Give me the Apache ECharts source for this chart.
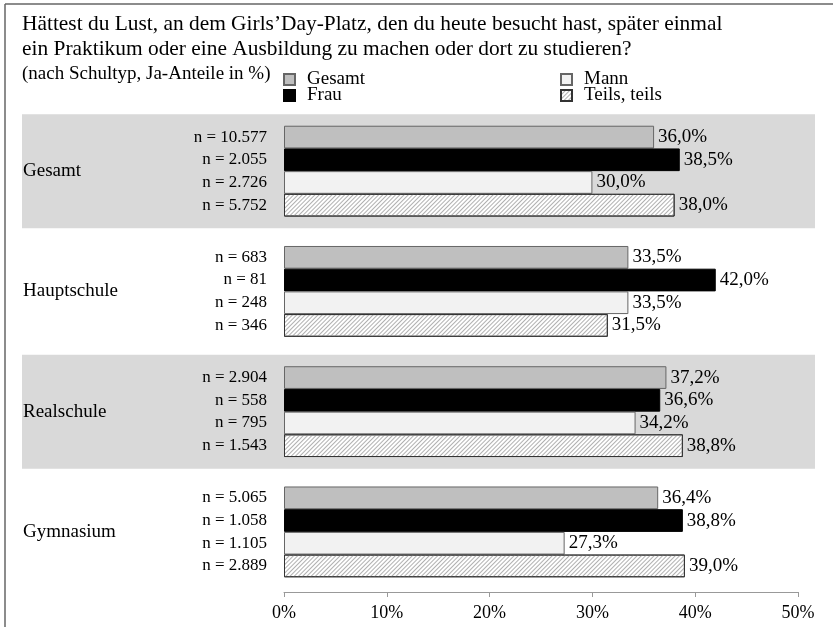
<!DOCTYPE html>
<html>
<head>
<meta charset="utf-8">
<script src="https://cdn.jsdelivr.net/npm/echarts@6/dist/echarts.min.js"></script>
<style>
  html, body { margin: 0; padding: 0; background: #fff; }
  #main { width: 833px; height: 627px; }
</style>
</head>
<body>
<div id="main"></div>
<script>
// Schultypen (von oben nach unten)
const categories = ['Gesamt', 'Hauptschule', 'Realschule', 'Gymnasium'];

// Ja-Anteile in %
const gesamtValues = [36.0, 33.5, 37.2, 36.4];
const frauValues = [38.5, 42.0, 36.6, 38.8];
const mannValues = [30.0, 33.5, 34.2, 27.3];
const teilsValues = [38.0, 31.5, 38.8, 39.0];

// Fallzahlen
const gesamtN = ['10.577', '683', '2.904', '5.065'];
const frauN = ['2.055', '81', '558', '1.058'];
const mannN = ['2.726', '248', '795', '1.105'];
const teilsN = ['5.752', '346', '1.543', '2.889'];

const xTicks = [0, 10, 20, 30, 40, 50];

const FONT = 'Liberation Serif';
const BAR_H = 22.7;

function pct(v) {
  return v.toFixed(1).replace('.', ',') + '%';
}

// one slot per group: a zero bar carrying the "n = ..." label, then the real bar
function slot(name, values, nList, style, idx) {
  let stackId = 's' + idx;
  return [
    {
      name: 'n_' + name,
      type: 'bar',
      stack: stackId,
      barWidth: BAR_H,
      barGap: '0%',
      silent: true,
      data: values.map(() => 0),
      itemStyle: { color: 'transparent' },
      label: {
        show: true,
        position: 'left',
        distance: 17,
        fontFamily: FONT,
        fontSize: 17,
        color: '#000',
        formatter: p => 'n = ' + nList[p.dataIndex]
      }
    },
    {
      name: name,
      type: 'bar',
      stack: stackId,
      barWidth: BAR_H,
      barGap: '0%',
      data: values,
      itemStyle: style,
      label: {
        show: true,
        position: 'right',
        distance: 4,
        fontFamily: FONT,
        fontSize: 19,
        color: '#000',
        formatter: p => pct(p.value)
      }
    }
  ];
}

var myChart = echarts.init(document.getElementById('main'));

let series = [
  // grey bands behind Gesamt and Realschule
  {
    name: 'band',
    type: 'bar',
    xAxisIndex: 1,
    yAxisIndex: 1,
    z: 0,
    silent: true,
    barWidth: 114,
    data: categories.map((c, i) => (i % 2 === 0 ? 1 : 0)),
    itemStyle: { color: '#d9d9d9' }
  }
];
series = series.concat(
  slot('Gesamt', gesamtValues, gesamtN, { color: '#bfbfbf', borderColor: '#666', borderWidth: 1 }, 0),
  slot('Frau', frauValues, frauN, { color: '#000', borderColor: '#000', borderWidth: 1 }, 1),
  slot('Mann', mannValues, mannN, { color: '#f2f2f2', borderColor: '#666', borderWidth: 1 }, 2),
  slot('Teils, teils', teilsValues, teilsN, {
    color: '#fff',
    borderColor: '#333',
    borderWidth: 1,
    decal: {
      symbol: 'rect',
      symbolSize: 1,
      dashArrayX: [1, 0],
      dashArrayY: [1, 2],
      rotation: -Math.PI / 4,
      color: '#b0b0b0'
    }
  }, 3)
);

let legendText = {
  fontFamily: FONT,
  fontSize: 19,
  color: '#000',
  lineHeight: 14,
  padding: [0, 0, 0, 7]
};

myChart.setOption({
  animation: false,
  title: [
    {
      text: 'Hättest du Lust, an dem Girls’Day-Platz, den du heute besucht hast, später einmal\nein Praktikum oder eine Ausbildung zu machen oder dort zu studieren?',
      left: 17,
      top: 7,
      textStyle: { fontFamily: FONT, fontSize: 21.4, fontWeight: 'normal', color: '#000', lineHeight: 25 }
    },
    {
      text: '(nach Schultyp, Ja-Anteile in %)',
      left: 17,
      top: 60,
      textStyle: { fontFamily: FONT, fontSize: 19, fontWeight: 'normal', color: '#000' }
    }
  ],
  legend: [
    {
      data: ['Gesamt', 'Frau'],
      orient: 'vertical',
      left: 278,
      top: 65,
      itemGap: -3,
      icon: 'rect',
      itemWidth: 11,
      itemHeight: 11,
      textStyle: legendText
    },
    {
      data: ['Mann', 'Teils, teils'],
      orient: 'vertical',
      left: 555,
      top: 65,
      itemGap: -3,
      icon: 'rect',
      itemWidth: 11,
      itemHeight: 11,
      textStyle: legendText
    }
  ],
  graphic: [
    { type: 'line', shape: { x1: 5, y1: 4, x2: 833, y2: 4 }, style: { stroke: '#666', lineWidth: 1.5 } },
    { type: 'line', shape: { x1: 5, y1: 4, x2: 5, y2: 627 }, style: { stroke: '#666', lineWidth: 1.5 } }
  ],
  grid: [
    { left: 284, right: 35, top: 111, height: 481 },
    { left: 22, right: 18, top: 111, height: 481 }
  ],
  xAxis: [
    {
      type: 'value',
      min: xTicks[0],
      max: xTicks[xTicks.length - 1],
      interval: xTicks[1] - xTicks[0],
      splitLine: { show: false },
      axisLine: { show: true, lineStyle: { color: '#999' } },
      axisTick: { show: true, length: 5, lineStyle: { color: '#999' } },
      axisLabel: {
        margin: 12,
        fontFamily: FONT,
        fontSize: 18,
        color: '#000',
        formatter: '{value}%'
      }
    },
    { type: 'value', gridIndex: 1, min: 0, max: 1, show: false }
  ],
  yAxis: [
    {
      type: 'category',
      data: categories,
      inverse: true,
      axisLine: { show: false },
      axisTick: { show: false },
      axisLabel: {
        align: 'left',
        margin: 261,
        fontFamily: FONT,
        fontSize: 19,
        color: '#000'
      }
    },
    { type: 'category', gridIndex: 1, data: categories, inverse: true, show: false }
  ],
  series: series
});
</script>
</body>
</html>
